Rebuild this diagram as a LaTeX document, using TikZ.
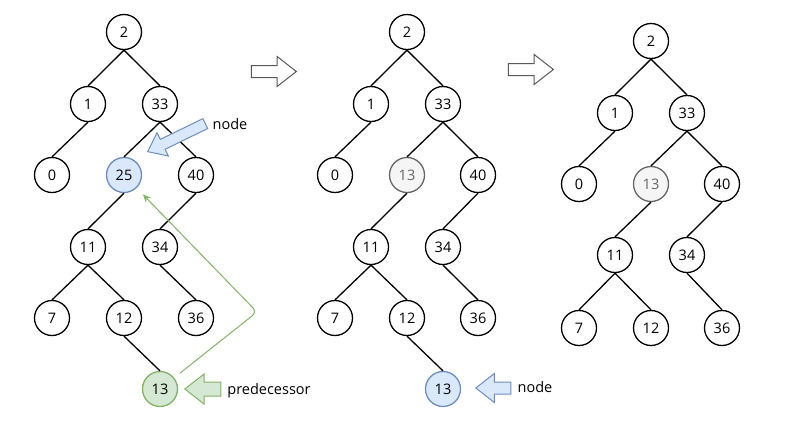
\documentclass[tikz,border=0pt]{standalone}
\usepackage{fontspec}
\setmainfont{Open Sans}
\usepackage{tikz}
\usetikzlibrary{shapes.arrows,arrows.meta}
\definecolor{blueFill}{HTML}{DAE8FC}
\definecolor{blueLine}{HTML}{6C8EBF}
\definecolor{greenFill}{HTML}{D5E8D4}
\definecolor{greenLine}{HTML}{82B366}
\definecolor{grayFill}{HTML}{F5F5F5}
\definecolor{grayLine}{HTML}{666666}

\begin{document}
\begin{tikzpicture}[x=1pt, y=-1pt,
    every node/.style={font=\fontsize{14.5}{16}\selectfont},
    key/.style={circle, draw=black, line width=1.3pt, minimum size=35pt, inner sep=0pt},
    edge/.style={line width=1.3pt},
    pointer/.style={single arrow, line width=1pt, single arrow tip angle=76},
    step arrow/.style={pointer, draw=gray!70!black, fill=white, minimum height=45pt, inner sep=5.5pt, single arrow head extend=9pt}]
    \useasboundingbox (0,0) rectangle (805,424);

    % left tree: before
    \node (l2) at (124,32) [key] {2};
    \node (l1) at (88,104) [key] {1};
    \node (l33) at (160,104) [key] {33};
    \node (l0) at (52,175) [key] {0};
    \node (l25) at (124,175) [key, fill=blueFill, draw=blueLine] {25};
    \node (l40) at (196,175) [key] {40};
    \node (l11) at (88,247) [key] {11};
    \node (l34) at (160,247) [key] {34};
    \node (l7) at (52,318) [key] {7};
    \node (l12) at (124,318) [key] {12};
    \node (l36) at (196,318) [key] {36};
    \node (l13) at (160,389) [key, fill=greenFill, draw=greenLine] {13};

    \draw[edge] (l2.south) -- (l1.north);
    \draw[edge] (l2.south) -- (l33.north);
    \draw[edge] (l1.south) -- (l0.north);
    \draw[edge] (l33.south) -- (l25.north);
    \draw[edge] (l33.south) -- (l40.north);
    \draw[edge] (l25.south) -- (l11.north);
    \draw[edge] (l40.south) -- (l34.north);
    \draw[edge] (l11.south) -- (l7.north);
    \draw[edge] (l11.south) -- (l12.north);
    \draw[edge] (l34.south) -- (l36.north);
    \draw[edge] (l12.south) -- (l13.north);

    \node (ptr25) at (147,152) [pointer, fill=blueFill, draw=blueLine, minimum height=64pt, inner sep=5pt, single arrow head extend=7.5pt, rotate=206, anchor=tip] {};
    \node (lbl25) at (230,124) {node};
    \node (ptr13) at (184,389) [pointer, fill=greenFill, draw=greenLine, minimum height=36pt, inner sep=6.5pt, single arrow head extend=8pt, rotate=180, anchor=tip] {};
    \node (lbl13) at (269,391) {predecessor};

    \coordinate (bend) at (257,312);
    \draw[greenLine, line width=1pt, rounded corners=6pt, -{Stealth[length=8pt,width=7pt]}, shorten <=7pt, shorten >=9pt] (l13) -- (bend) -- (l25);

    \node (go1) at (270,71.5) [step arrow] {};

    % middle tree: value copied
    \node (m2) at (407,32) [key] {2};
    \node (m1) at (371,104) [key] {1};
    \node (m33) at (443,104) [key] {33};
    \node (m0) at (335,175) [key] {0};
    \node (m25) at (407,175) [key, fill=grayFill, draw=grayLine, text=grayLine] {13};
    \node (m40) at (478,175) [key] {40};
    \node (m11) at (371,247) [key] {11};
    \node (m34) at (443,247) [key] {34};
    \node (m7) at (335,318) [key] {7};
    \node (m12) at (407,318) [key] {12};
    \node (m36) at (478,318) [key] {36};
    \node (m13) at (443,389) [key, fill=blueFill, draw=blueLine] {13};

    \draw[edge] (m2.south) -- (m1.north);
    \draw[edge] (m2.south) -- (m33.north);
    \draw[edge] (m1.south) -- (m0.north);
    \draw[edge] (m33.south) -- (m25.north);
    \draw[edge] (m33.south) -- (m40.north);
    \draw[edge] (m25.south) -- (m11.north);
    \draw[edge] (m40.south) -- (m34.north);
    \draw[edge] (m11.south) -- (m7.north);
    \draw[edge] (m11.south) -- (m12.north);
    \draw[edge] (m34.south) -- (m36.north);
    \draw[edge] (m12.south) -- (m13.north);

    \node (ptrm13) at (475,388) [pointer, fill=blueFill, draw=blueLine, minimum height=35pt, inner sep=5.5pt, single arrow head extend=8.5pt, rotate=180, anchor=tip] {};
    \node (lblm13) at (535,387) {node};

    \node (go2) at (527,69.5) [step arrow] {};

    % right tree: after
    \node (r2) at (651,41) [key] {2};
    \node (r1) at (615,113) [key] {1};
    \node (r33) at (687,113) [key] {33};
    \node (r0) at (579,184) [key] {0};
    \node (r25) at (651,184) [key, fill=grayFill, draw=grayLine, text=grayLine] {13};
    \node (r40) at (722,184) [key] {40};
    \node (r11) at (615,255) [key] {11};
    \node (r34) at (687,255) [key] {34};
    \node (r7) at (579,328) [key] {7};
    \node (r12) at (651,328) [key] {12};
    \node (r36) at (722,328) [key] {36};

    \draw[edge] (r2.south) -- (r1.north);
    \draw[edge] (r2.south) -- (r33.north);
    \draw[edge] (r1.south) -- (r0.north);
    \draw[edge] (r33.south) -- (r25.north);
    \draw[edge] (r33.south) -- (r40.north);
    \draw[edge] (r25.south) -- (r11.north);
    \draw[edge] (r40.south) -- (r34.north);
    \draw[edge] (r11.south) -- (r7.north);
    \draw[edge] (r11.south) -- (r12.north);
    \draw[edge] (r34.south) -- (r36.north);
\end{tikzpicture}
\end{document}
